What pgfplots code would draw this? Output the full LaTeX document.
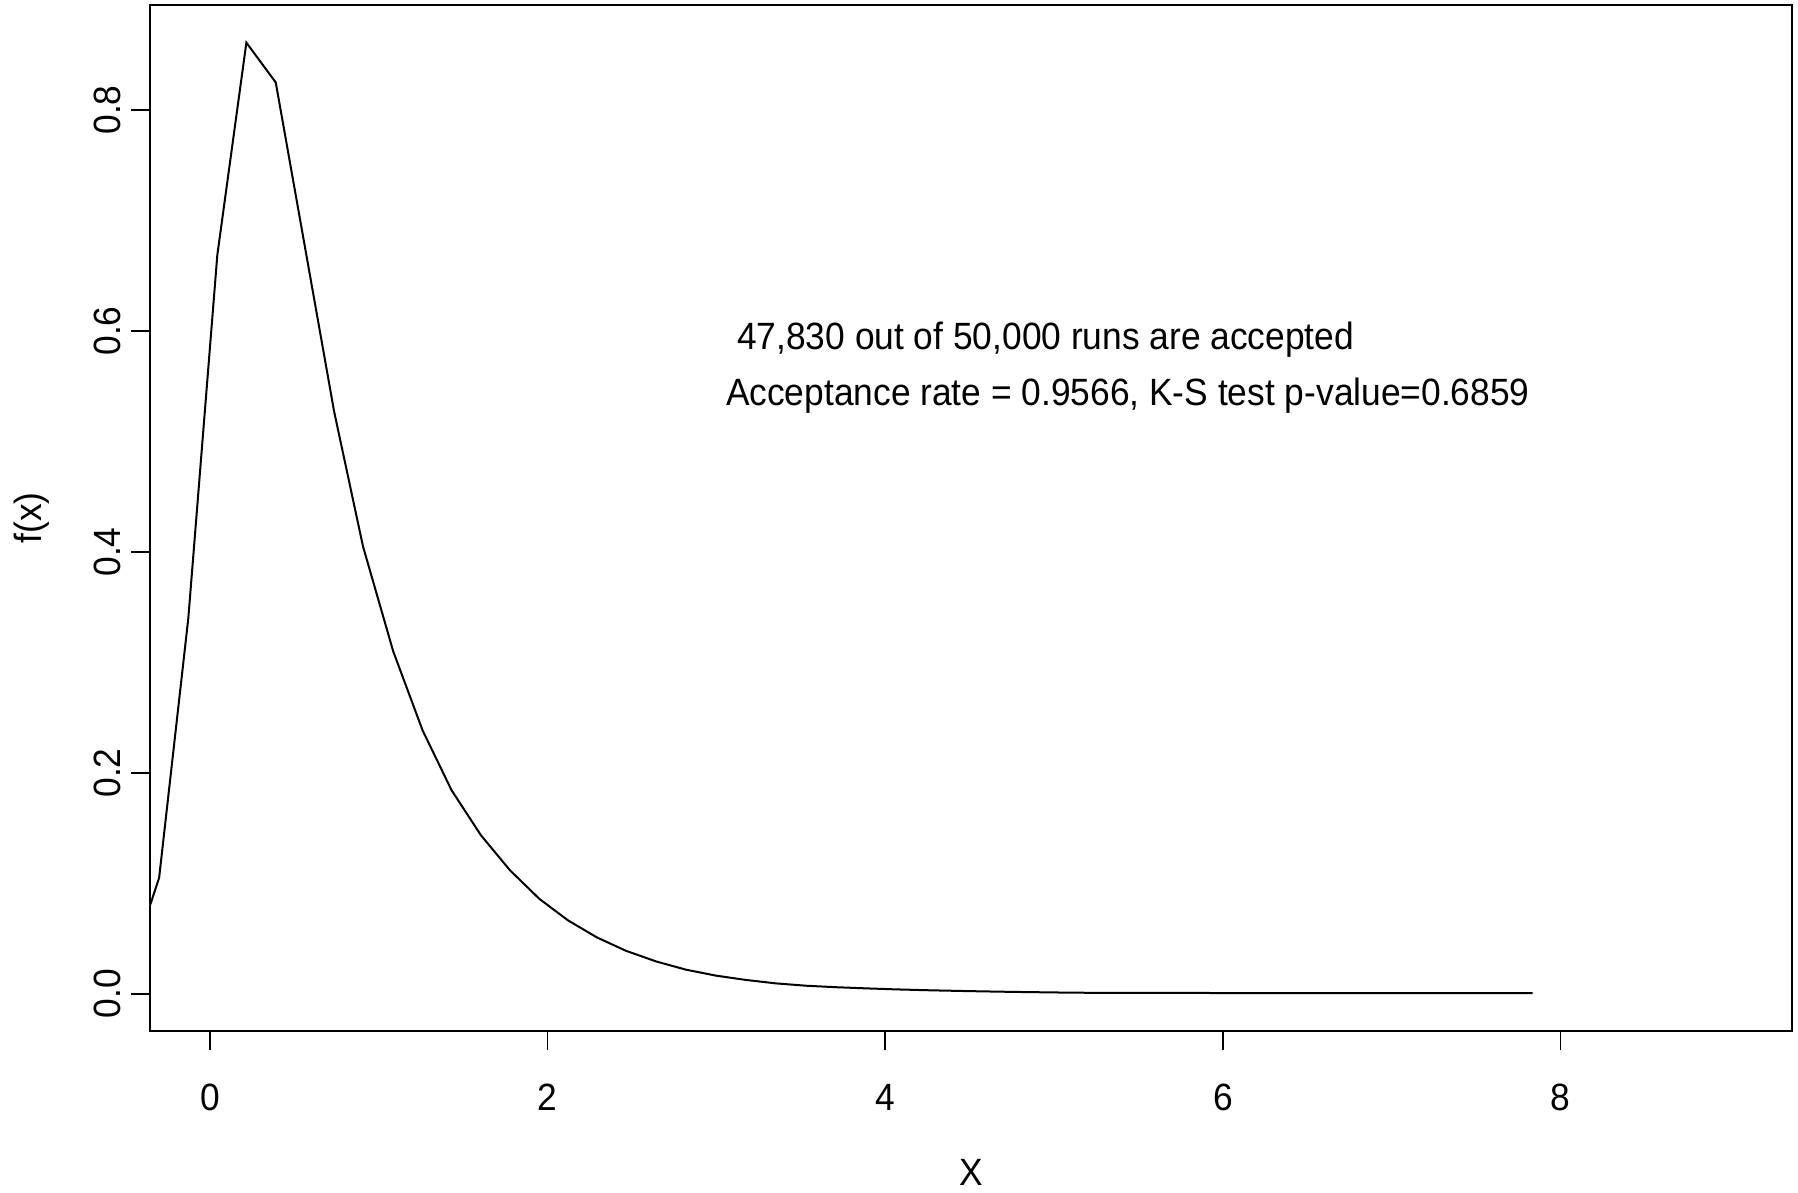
\documentclass[border=0pt]{standalone}
\usepackage{fontspec}
\setmainfont{Liberation Sans}[FakeStretch=0.93]
\usepackage{pgfplots}
\pgfplotsset{compat=1.18}
\begin{document}
\fontsize{9.5}{11}\selectfont
\begin{tikzpicture}
\begin{axis}[
  scale only axis,
  width=410.5pt, height=256.5pt,
  xmin=-0.356, xmax=9.372,
  ymin=-0.0336, ymax=0.8951,
  xtick={0,2,4,6,8},
  ytick={0,0.2,0.4,0.6,0.8},
  tick align=outside,
  major tick length=4.75pt,
  tick style={black, line width=0.4pt},
  xtick pos=bottom, ytick pos=left,
  axis line style={line width=0.6pt},
  /pgf/number format/assume math mode=true,
  yticklabel={\pgfmathprintnumber[fixed,fixed zerofill,precision=1]{\tick}},
  xticklabel style={anchor=center, yshift=-11.9pt},
  yticklabel style={anchor=center, xshift=-6pt, rotate=90},
  clip mode=individual,
]
\addplot[black, line width=0.5pt] table {
x y
-0.356 0.080
-0.302 0.105
-0.129 0.340
0.043 0.669
0.215 0.861
0.389 0.825
0.562 0.676
0.735 0.527
0.906 0.405
1.085 0.310
1.259 0.2385
1.430 0.1845
1.604 0.1437
1.776 0.112
1.950 0.0861
2.122 0.0664
2.292 0.0511
2.464 0.0390
2.642 0.0294
2.820 0.0219
2.998 0.0165
3.176 0.0126
3.353 0.0095
3.531 0.0074
3.700 0.0061
3.887 0.0050
4.060 0.0041
4.280 0.0032
4.500 0.0025
4.680 0.0020
5.000 0.0013
5.270 0.0009
6.000 0.0008
7.000 0.0007
7.835 0.0007
};
\node[anchor=west, inner sep=0pt] at (axis cs:3.118,0.5925) {47,830 out of 50,000 runs are accepted};
\node[anchor=west, inner sep=0pt] at (axis cs:3.052,0.5415) {Acceptance rate = 0.9566, K-S test p-value=0.6859};
\node[anchor=center] at ([yshift=-35.25pt]rel axis cs:0.5,0) {X};
\node[anchor=center, rotate=90] at ([xshift=-29.5pt]rel axis cs:0,0.5) {f(x)};
\end{axis}
\pgfresetboundingbox
\path ([shift={(-37.5pt,-40.25pt)}]current axis.south west) rectangle ([shift={(1.5pt,1.25pt)}]current axis.north east);
\end{tikzpicture}
\end{document}
